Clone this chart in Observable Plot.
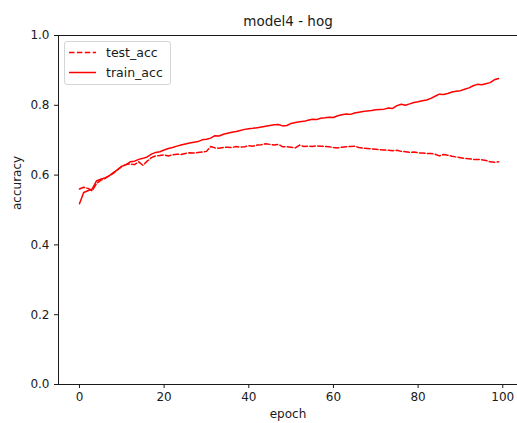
<!DOCTYPE html>
<html>
<head>
<meta charset="utf-8">
<script src="https://cdn.jsdelivr.net/npm/d3@7"></script>
<script src="https://cdn.jsdelivr.net/npm/@observablehq/plot@0.6"></script>
<style>
  html, body { margin: 0; padding: 0; background: #fff; }
  svg { display: block; }
</style>
</head>
<body>
<div id="chart"></div>
<script>
const title = "model4 - hog";
const xLabel = "epoch";
const yLabel = "accuracy";
const seriesNames = ["test_acc", "train_acc"];
const xTicks = [0, 20, 40, 60, 80, 100];
const yTicks = [0, 0.2, 0.4, 0.6, 0.8, 1.0];

const trainAcc = [
  0.518, 0.550, 0.555, 0.560, 0.583, 0.588, 0.592, 0.598, 0.607, 0.616,
  0.625, 0.630, 0.638, 0.640, 0.645, 0.648, 0.652, 0.660, 0.665, 0.667,
  0.672, 0.676, 0.679, 0.683, 0.686, 0.689, 0.692, 0.694, 0.696, 0.701,
  0.703, 0.706, 0.713, 0.712, 0.717, 0.720, 0.723, 0.725, 0.728, 0.731,
  0.733, 0.734, 0.736, 0.738, 0.740, 0.742, 0.744, 0.745, 0.741, 0.742,
  0.748, 0.751, 0.753, 0.754, 0.757, 0.760, 0.759, 0.763, 0.764, 0.766,
  0.765, 0.770, 0.773, 0.775, 0.774, 0.778, 0.780, 0.782, 0.784, 0.785,
  0.787, 0.788, 0.789, 0.792, 0.791, 0.799, 0.803, 0.800, 0.804, 0.808,
  0.810, 0.813, 0.815, 0.820, 0.826, 0.832, 0.831, 0.834, 0.838, 0.840,
  0.842, 0.846, 0.850, 0.856, 0.860, 0.859, 0.862, 0.865, 0.873, 0.877
];
const testAcc = [
  0.560, 0.565, 0.562, 0.555, 0.575, 0.585, 0.590, 0.598, 0.605, 0.615,
  0.625, 0.630, 0.632, 0.630, 0.638, 0.628, 0.640, 0.650, 0.655, 0.656,
  0.658, 0.655, 0.658, 0.660, 0.659, 0.662, 0.664, 0.663, 0.665, 0.666,
  0.668, 0.682, 0.678, 0.677, 0.679, 0.680, 0.679, 0.682, 0.680, 0.681,
  0.684, 0.683, 0.686, 0.687, 0.690, 0.688, 0.686, 0.688, 0.681, 0.681,
  0.680, 0.678, 0.686, 0.682, 0.683, 0.682, 0.684, 0.683, 0.682, 0.681,
  0.679, 0.678, 0.680, 0.681, 0.682, 0.683, 0.679, 0.677, 0.676, 0.675,
  0.674, 0.673, 0.672, 0.671, 0.670, 0.671, 0.668, 0.667, 0.665, 0.666,
  0.664, 0.663, 0.662, 0.662, 0.660, 0.655, 0.659, 0.657, 0.654, 0.652,
  0.650, 0.648, 0.647, 0.645, 0.645, 0.644, 0.642, 0.638, 0.637, 0.638
];

const epochs = trainAcc.map((_, i) => i);
const testData = epochs.map(i => ({epoch: i, acc: testAcc[i]}));
const trainData = epochs.map(i => ({epoch: i, acc: trainAcc[i]}));

const W = 517, H = 423;
const mL = 58, mT = 35, mB = 39;
const font = "DejaVu Sans, sans-serif";
const ink = "#1a1a1a";
const red = "#ff0000";
const dash = "5.5,2.4";
const fs = 12;

const chart = Plot.plot({
  width: W,
  height: H,
  marginLeft: mL,
  marginTop: mT,
  marginBottom: mB,
  marginRight: 0,
  style: {fontFamily: font, fontSize: fs + "px", color: ink, background: "#fff", overflow: "hidden"},
  x: {domain: [-4.95, 103.95], range: [mL, 519]},
  y: {domain: [0, 1]},
  marks: [
    Plot.line(testData, {x: "epoch", y: "acc", stroke: red, strokeWidth: 1.5, strokeDasharray: dash}),
    Plot.line(trainData, {x: "epoch", y: "acc", stroke: red, strokeWidth: 1.5}),
    Plot.ruleX([-4.95], {stroke: ink, strokeWidth: 1}),
    Plot.ruleY([0, 1], {stroke: ink, strokeWidth: 1}),
    Plot.axisX({ticks: xTicks, tickSize: 4, tickPadding: 4, label: null, tickFormat: d3.format("d"), fontSize: fs, stroke: ink, fill: ink}),
    Plot.axisY({ticks: yTicks, tickSize: 4, tickPadding: 5, label: null, tickFormat: d3.format(".1f"), fontSize: fs, stroke: ink, fill: ink}),
    Plot.text([title], {frameAnchor: "top", dy: -14, fontSize: 13.5, fill: ink, lineAnchor: "middle"}),
    Plot.text([xLabel], {frameAnchor: "bottom", dy: 30, fontSize: fs, fill: ink, lineAnchor: "middle"}),
    Plot.text([yLabel], {frameAnchor: "left", dx: -41, rotate: -90, fontSize: fs, fill: ink, lineAnchor: "middle"})
  ]
});

// Legend (matplotlib style box, upper left)
const svg = d3.select(chart);
const lg = svg.append("g").attr("font-family", font).attr("font-size", 12.5).attr("text-anchor", "start");
lg.append("rect")
  .attr("x", 64.5).attr("y", 41.5).attr("width", 106).attr("height", 43)
  .attr("rx", 2.5).attr("fill", "#fff").attr("fill-opacity", 0.8)
  .attr("stroke", "#d5d5d5");
const rows = [{name: seriesNames[0], dashed: true, y: 52.5}, {name: seriesNames[1], dashed: false, y: 72.5}];
rows.forEach(r => {
  lg.append("line").attr("x1", 69).attr("x2", 96).attr("y1", r.y).attr("y2", r.y)
    .attr("stroke", red).attr("stroke-width", 1.5)
    .attr("stroke-dasharray", r.dashed ? dash : null);
  lg.append("text").attr("x", 106).attr("y", r.y).attr("dy", "0.35em")
    .attr("text-anchor", "start").attr("fill", ink).text(r.name);
});

document.getElementById("chart").appendChild(chart);
</script>
</body>
</html>
